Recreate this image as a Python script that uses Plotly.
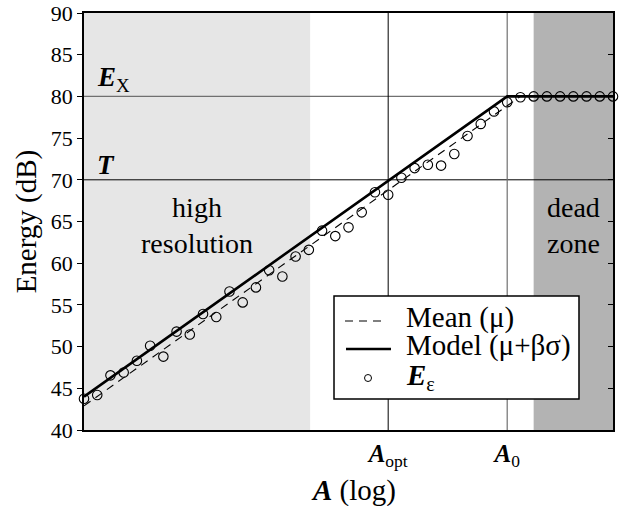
import plotly.graph_objects as go

# ---- data ----
sample_idx = list(range(41))
energy_eps = [43.75, 44.2, 46.55, 46.9, 48.3, 50.1, 48.8, 51.8, 51.45, 53.9,
              53.55, 56.6, 55.3, 57.1, 59.15, 58.4, 60.8, 61.6, 63.9, 63.25,
              64.3, 66.1, 68.5, 68.2, 70.25, 71.4, 71.8, 71.7, 73.1, 75.25,
              76.7, 78.2, 79.3, 79.9, 80, 80, 80, 80, 80, 80, 80]
model_x = [0, 32, 40]
model_y = [44.0, 80, 80]
mean_x = [0, 33, 40]
mean_y = [42.9, 80, 80]
A_opt = 23
A_0 = 32
T_level = 70
E_X_level = 80
high_res_end = 17.1
dead_zone_start = 34.0
x_min, x_max = 0, 40
y_min, y_max = 40, 90
y_ticks = [40, 45, 50, 55, 60, 65, 70, 75, 80, 85, 90]
legend_labels = ["Mean (μ)", "Model (μ+βσ)", "<b><i>E</i></b><sub>ε</sub>"]

FONT = "Liberation Serif"
DASH = "8px,6px"

fig = go.Figure()

fig.add_trace(go.Scatter(x=mean_x, y=mean_y, mode="lines", name=legend_labels[0],
                         showlegend=False,
                         line=dict(color="black", width=1.1, dash=DASH)))
fig.add_trace(go.Scatter(x=model_x, y=model_y, mode="lines", name=legend_labels[1],
                         showlegend=False,
                         line=dict(color="black", width=2.6)))
fig.add_trace(go.Scatter(x=sample_idx, y=energy_eps, mode="markers",
                         name=legend_labels[2], cliponaxis=False, showlegend=False,
                         marker=dict(symbol="circle-open", size=9.5, color="black",
                                     line=dict(width=1.1, color="black"))))

# invisible trace for right axis with inward ticks
fig.add_trace(go.Scatter(x=[x_min], y=[y_min], yaxis="y2", mode="markers",
                         marker=dict(opacity=0), showlegend=False, hoverinfo="skip"))

# legend box layout (paper coordinates)
LB = dict(x0=0.4726, x1=0.9357, y0=0.0743, y1=0.3213)
row_y = [0.2614, 0.1942, 0.1247]
text_y = [0.2686, 0.2038, 0.1271]
text_x = 0.6049

shapes = [
    dict(type="rect", xref="x", yref="paper", x0=x_min, x1=high_res_end, y0=0, y1=1,
         fillcolor="#e6e6e6", line=dict(width=0), layer="below"),
    dict(type="rect", xref="x", yref="paper", x0=dead_zone_start, x1=x_max, y0=0, y1=1,
         fillcolor="#b3b3b3", line=dict(width=0), layer="below"),
    dict(type="line", xref="paper", yref="y", x0=0, x1=1, y0=E_X_level, y1=E_X_level,
         line=dict(color="#707070", width=1.2), layer="below"),
    dict(type="line", xref="paper", yref="y", x0=0, x1=1, y0=T_level, y1=T_level,
         line=dict(color="black", width=1.0), layer="below"),
    dict(type="line", xref="x", yref="paper", x0=A_opt, x1=A_opt, y0=0, y1=1,
         line=dict(color="black", width=1.0), layer="below"),
    dict(type="line", xref="x", yref="paper", x0=A_0, x1=A_0, y0=0, y1=1,
         line=dict(color="#707070", width=1.2), layer="below"),
    # legend
    dict(type="rect", xref="paper", yref="paper", **LB,
         fillcolor="white", line=dict(color="black", width=1.5), layer="above"),
    dict(type="line", xref="paper", yref="paper", x0=0.4934, x1=0.5709,
         y0=row_y[0], y1=row_y[0], line=dict(color="black", width=1.1, dash=DASH),
         layer="above"),
    dict(type="line", xref="paper", yref="paper", x0=0.4953, x1=0.5803,
         y0=row_y[1], y1=row_y[1], line=dict(color="black", width=2.6), layer="above"),
    dict(type="circle", xref="paper", yref="paper", xsizemode="pixel", ysizemode="pixel",
         xanchor=0.5369, yanchor=row_y[2], x0=-3.5, x1=3.5, y0=-3.5, y1=3.5,
         line=dict(color="black", width=1.0), fillcolor="white", layer="above"),
]

annotations = [
    dict(x=0.02, y=E_X_level, xref="paper", yref="y", xanchor="left", yanchor="bottom",
         text="<b><i>E</i></b><sub>X</sub>", showarrow=False,
         font=dict(family=FONT, size=27, color="black"), yshift=-2),
    dict(x=0.02, y=T_level, xref="paper", yref="y", xanchor="left", yanchor="bottom",
         text="<b><i>T</i></b>", showarrow=False,
         font=dict(family=FONT, size=27, color="black"), yshift=-2),
    dict(x=high_res_end / 2, y=64.5, xref="x", yref="y",
         text="high<br>resolution", showarrow=False,
         font=dict(family=FONT, size=28, color="black")),
    dict(x=(dead_zone_start + x_max) / 2, y=64.5, xref="x", yref="y",
         text="dead<br>zone", showarrow=False,
         font=dict(family=FONT, size=28, color="black")),
    dict(x=0.51, y=-0.144, xref="paper", yref="paper", xanchor="center", yanchor="middle",
         text="<b><i>A</i></b> (log)", showarrow=False,
         font=dict(family=FONT, size=29, color="black")),
    dict(x=-0.108, y=0.5, xref="paper", yref="paper", xanchor="center", yanchor="middle",
         text="Energy (dB)", textangle=-90, showarrow=False,
         font=dict(family=FONT, size=29, color="black")),
]
for lbl, ty in zip(legend_labels, text_y):
    annotations.append(dict(x=text_x, y=ty, xref="paper", yref="paper", xanchor="left",
                            yanchor="middle", text=lbl, showarrow=False,
                            font=dict(family=FONT, size=29, color="black")))

fig.update_layout(
    width=629, height=506,
    margin=dict(l=84, r=16, t=13, b=76, autoexpand=False),
    plot_bgcolor="white", paper_bgcolor="white",
    font=dict(family=FONT, color="black", size=20),
    shapes=shapes, annotations=annotations,
    showlegend=False,
    xaxis=dict(range=[x_min, x_max], tickvals=[A_opt, A_0],
               ticktext=["<b><i>A</i></b><sub>opt</sub>", "<b><i>A</i></b><sub>0</sub>"],
               ticks="", showgrid=False, zeroline=False, automargin=False,
               showline=True, linecolor="black", linewidth=1.5, mirror=True,
               tickfont=dict(family=FONT, size=25)),
    yaxis=dict(range=[y_min, y_max], tickvals=y_ticks, ticks="outside", ticklen=5,
               tickwidth=1, tickcolor="black", showgrid=False, zeroline=False,
               showline=True, linecolor="black", linewidth=1.5, automargin=False,
               ticklabeloverflow="allow",
               tickfont=dict(family=FONT, size=22)),
    yaxis2=dict(range=[y_min, y_max], tickvals=y_ticks, overlaying="y", side="right",
                ticks="inside", ticklen=5, tickwidth=1, tickcolor="black",
                showticklabels=False, showgrid=False, zeroline=False, automargin=False,
                showline=True, linecolor="black", linewidth=1.5),
)

fig.write_html("out.html", config={"displayModeBar": False},
               post_script="document.body.style.margin='0';document.body.style.overflow='hidden';")
